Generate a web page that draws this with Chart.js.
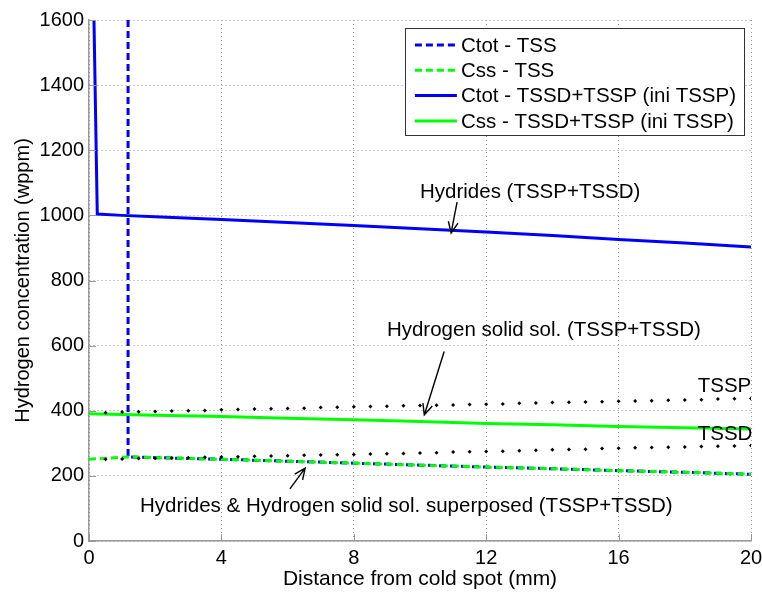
<!DOCTYPE html>
<html>
<head>
<meta charset="utf-8">
<script src="https://cdn.jsdelivr.net/npm/chart.js@4.4.1/dist/chart.umd.min.js"></script>
<style>
  html, body { margin: 0; padding: 0; background: #fff; }
</style>
</head>
<body>
<canvas id="chart" width="762" height="594"></canvas>
<script>
// ---- data (x in mm, y in wppm) ----
const ctotTssX = [0, 1.18, 1.18, 2, 4, 6, 8, 10, 12, 14, 16, 18, 20];
const ctotTssY = [3000, 3000, 258, 256, 251, 245, 239, 233, 227, 222, 216, 211, 205];

const cssTssX = [0, 1.18, 2, 4, 6, 8, 10, 12, 14, 16, 18, 20];
const cssTssY = [251, 258, 256, 251, 245, 239, 233, 227, 222, 216, 211, 205];

const ctotHystX = [0, 0.25, 1, 2, 4, 6, 8, 10, 12, 14, 16, 18, 20];
const ctotHystY = [2500, 1004, 1000, 996, 987, 978, 969, 959, 949, 938, 926, 915, 903];

const cssHystX = [0, 2, 4, 6, 8, 10, 12, 14, 16, 18, 20];
const cssHystY = [391, 386, 382, 377, 372, 367, 361, 357, 352, 348, 344];

// solubility limits, marked with dots
const limitX = [0.5, 1, 1.5, 2, 2.5, 3, 3.5, 4, 4.5, 5, 5.5, 6, 6.5, 7, 7.5, 8, 8.5, 9, 9.5, 10,
                10.5, 11, 11.5, 12, 12.5, 13, 13.5, 14, 14.5, 15, 15.5, 16, 16.5, 17, 17.5, 18, 18.5, 19, 19.5, 20];
const tsspY = [394, 396, 397, 398, 399, 400, 401, 403, 404, 405, 406, 407, 408, 410, 411, 412, 413, 414, 415, 416,
               417, 418, 419, 420, 421, 423, 424, 425, 426, 427, 428, 429, 430, 431, 432, 433, 434, 436, 437, 438];
const tssdY = [251, 252, 253, 254, 255, 256, 257, 258, 259, 260, 261, 262, 263, 264, 265, 266, 267, 268, 269, 270,
               271, 273, 274, 275, 276, 277, 279, 280, 281, 282, 284, 285, 286, 287, 288, 289, 290, 291, 292, 293];

const xTicks = [0, 4, 8, 12, 16, 20];
const yTicks = [0, 200, 400, 600, 800, 1000, 1200, 1400, 1600];

// text labels and arrows, in data units
const notes = [
  { text: 'Hydrides (TSSP+TSSD)', x: 10.0, y: 1072 },
  { text: 'Hydrogen solid sol. (TSSP+TSSD)', x: 9.0, y: 648 },
  { text: 'TSSP', x: 18.39, y: 474 },
  { text: 'TSSD', x: 18.39, y: 329 },
  { text: 'Hydrides & Hydrogen solid sol. superposed (TSSP+TSSD)', x: 1.54, y: 105 }
];
const arrows = [
  { x0: 11.12, y0: 1041, x1: 10.94, y1: 946 },
  { x0: 10.73, y0: 582, x1: 10.13, y1: 387 },
  { x0: 6.07, y0: 160, x1: 6.53, y1: 224 }
];

const FONT = "'Liberation Sans', Arial, sans-serif";

function pts(xs, ys) {
  return xs.map((x, i) => ({ x: x, y: ys[i] }));
}

// legend drawn inside the plot, upper right
const legendBox = {
  id: 'legendBox',
  afterDraw(chart) {
    const ctx = chart.ctx;
    const area = chart.chartArea;
    const items = chart.data.datasets.filter(d => d.inLegend);
    ctx.save();
    ctx.font = '20.5px ' + FONT;
    let tw = 0;
    items.forEach(d => { tw = Math.max(tw, ctx.measureText(d.label).width); });
    const w = 56 + tw + 8;
    const h = 107;
    const left = area.right - 7 - w;
    const top = area.top + 8;
    ctx.fillStyle = '#fff';
    ctx.fillRect(left, top, w, h);
    ctx.strokeStyle = '#333';
    ctx.lineWidth = 1;
    ctx.strokeRect(Math.round(left) + 0.5, top + 0.5, Math.round(w), h);
    items.forEach((d, i) => {
      const y = top + 17 + i * 25.3;
      ctx.beginPath();
      ctx.strokeStyle = d.borderColor;
      ctx.lineWidth = 3;
      ctx.setLineDash(d.borderDash || []);
      ctx.moveTo(left + 10, y);
      ctx.lineTo(left + 52, y);
      ctx.stroke();
      ctx.setLineDash([]);
      ctx.fillStyle = '#000';
      ctx.textBaseline = 'middle';
      ctx.textAlign = 'left';
      ctx.fillText(d.label, left + 56, y + 1);
    });
    ctx.restore();
  }
};

// inward tick marks + annotations
const extras = {
  id: 'extras',
  afterDatasetsDraw(chart) {
    const ctx = chart.ctx;
    const xs = chart.scales.x, ys = chart.scales.y;
    const area = chart.chartArea;
    ctx.save();
    ctx.strokeStyle = '#999';
    ctx.lineWidth = 1;
    ctx.beginPath();
    xTicks.forEach(v => {
      const px = Math.round(xs.getPixelForValue(v)) + 0.5;
      ctx.moveTo(px, area.bottom);
      ctx.lineTo(px, area.bottom - 7);
    });
    yTicks.forEach(v => {
      const py = Math.round(ys.getPixelForValue(v)) + 0.5;
      ctx.moveTo(area.left, py);
      ctx.lineTo(area.left + 7, py);
    });
    ctx.stroke();

    ctx.fillStyle = '#000';
    ctx.font = '20.5px ' + FONT;
    ctx.textAlign = 'left';
    ctx.textBaseline = 'middle';
    notes.forEach(n => {
      ctx.fillText(n.text, xs.getPixelForValue(n.x), ys.getPixelForValue(n.y));
    });

    ctx.strokeStyle = '#000';
    ctx.lineWidth = 1.4;
    arrows.forEach(a => {
      const x0 = xs.getPixelForValue(a.x0), y0 = ys.getPixelForValue(a.y0);
      const x1 = xs.getPixelForValue(a.x1), y1 = ys.getPixelForValue(a.y1);
      const ang = Math.atan2(y1 - y0, x1 - x0);
      const hl = 12, hw = 0.42;
      ctx.beginPath();
      ctx.moveTo(x0, y0);
      ctx.lineTo(x1, y1);
      ctx.moveTo(x1 - hl * Math.cos(ang - hw), y1 - hl * Math.sin(ang - hw));
      ctx.lineTo(x1, y1);
      ctx.lineTo(x1 - hl * Math.cos(ang + hw), y1 - hl * Math.sin(ang + hw));
      ctx.stroke();
    });
    ctx.restore();
  }
};

const ctx = document.getElementById('chart').getContext('2d');
new Chart(ctx, {
  type: 'line',
  data: {
    datasets: [
      {
        label: 'Ctot - TSS',
        data: pts(ctotTssX, ctotTssY),
        borderColor: '#0000ff',
        borderDash: [7, 4],
        borderWidth: 3,
        pointRadius: 0,
        inLegend: true,
        order: 3
      },
      {
        label: 'Css - TSS',
        data: pts(cssTssX, cssTssY),
        borderColor: '#00ff00',
        borderDash: [7, 4],
        borderWidth: 3,
        pointRadius: 0,
        inLegend: true,
        order: 2
      },
      {
        label: 'Ctot - TSSD+TSSP (ini TSSP)',
        data: pts(ctotHystX, ctotHystY),
        borderColor: '#0000ff',
        borderWidth: 3,
        pointRadius: 0,
        inLegend: true,
        order: 4
      },
      {
        label: 'Css - TSSD+TSSP (ini TSSP)',
        data: pts(cssHystX, cssHystY),
        borderColor: '#00ff00',
        borderWidth: 3,
        pointRadius: 0,
        inLegend: true,
        order: 5
      },
      {
        label: 'TSSP',
        data: pts(limitX, tsspY),
        showLine: false,
        pointStyle: 'rectRot',
        pointRadius: 2,
        pointBackgroundColor: '#000',
        pointBorderColor: '#000',
        pointBorderWidth: 0,
        order: 1
      },
      {
        label: 'TSSD',
        data: pts(limitX, tssdY),
        showLine: false,
        pointStyle: 'rectRot',
        pointRadius: 2,
        pointBackgroundColor: '#000',
        pointBorderColor: '#000',
        pointBorderWidth: 0,
        order: 1
      }
    ]
  },
  options: {
    responsive: false,
    animation: false,
    layout: { padding: { top: 20, right: 11, left: 0, bottom: 0 } },
    plugins: {
      legend: { display: false },
      tooltip: { enabled: false }
    },
    scales: {
      x: {
        type: 'linear',
        min: 0,
        max: 20,
        afterBuildTicks: s => { s.ticks = xTicks.map(v => ({ value: v })); },
        afterFit: s => { s.height = 53; s.paddingRight = 0; s.paddingLeft = 0; },
        ticks: {
          color: '#000', font: { family: FONT, size: 20 }, padding: 5, maxRotation: 0,
          callback: v => String(v)
        },
        grid: { color: '#999', drawTicks: false, lineWidth: 1 },
        border: { color: '#999', width: 1.5, dash: [1, 3] },
        title: {
          display: true,
          text: 'Distance from cold spot (mm)',
          color: '#000',
          font: { family: FONT, size: 21 },
          padding: { top: 0, bottom: 2 }
        }
      },
      y: {
        type: 'linear',
        min: 0,
        max: 1600,
        afterBuildTicks: s => { s.ticks = yTicks.map(v => ({ value: v })); },
        afterFit: s => { s.width = 89; },
        ticks: {
          color: '#000', font: { family: FONT, size: 20 }, padding: 5,
          callback: v => String(v)
        },
        grid: { color: '#999', drawTicks: false, lineWidth: 1 },
        border: { color: '#999', width: 1.5, dash: [1, 3] },
        title: {
          display: true,
          text: 'Hydrogen concentration (wppm)',
          color: '#000',
          font: { family: FONT, size: 20 },
          padding: { top: 11, bottom: 0 }
        }
      }
    }
  },
  plugins: [extras, legendBox]
});
</script>
</body>
</html>
